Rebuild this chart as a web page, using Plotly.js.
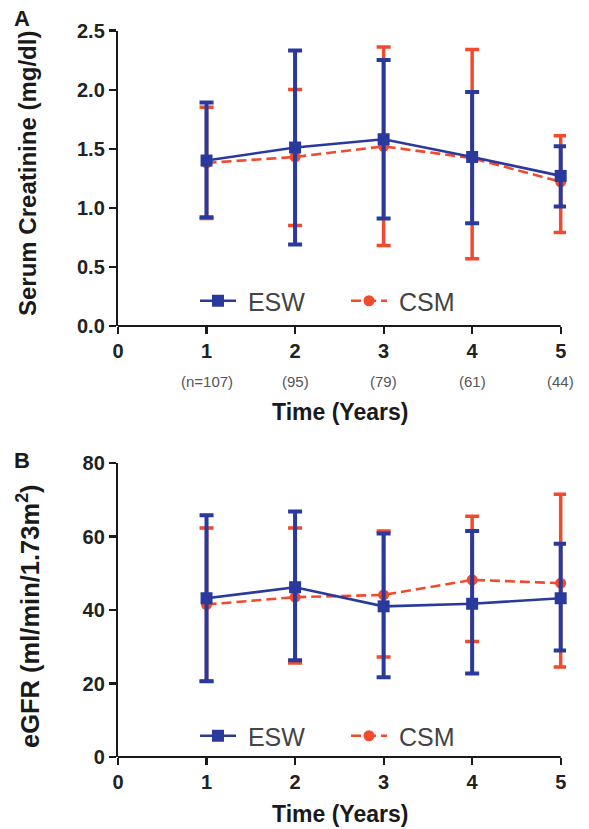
<!DOCTYPE html>
<html>
<head>
<meta charset="utf-8">
<script src="https://cdn.plot.ly/plotly-3.0.1.min.js"></script>
<style>html,body{margin:0;padding:0;background:#fff;}#chart{width:589px;height:829px;}</style>
</head>
<body>
<div id="chart"></div>
<script>
// ---- Data ----
var years = [1, 2, 3, 4, 5];
var sampleLabels = ["(n=107)", "(95)", "(79)", "(61)", "(44)"];
var groupNames = ["ESW", "CSM"];

// Panel A: Serum creatinine (mg/dl)
var crESWMean  = [1.40, 1.51, 1.58, 1.43, 1.27];
var crESWUpper = [1.89, 2.33, 2.25, 1.98, 1.52];
var crESWLower = [0.92, 0.69, 0.91, 0.87, 1.01];
var crCSMMean  = [1.38, 1.43, 1.52, 1.42, 1.22];
var crCSMUpper = [1.85, 2.00, 2.36, 2.34, 1.61];
var crCSMLower = [0.91, 0.85, 0.68, 0.57, 0.79];

// Panel B: eGFR (ml/min/1.73m2)
var gfESWMean  = [43.2, 46.2, 41.0, 41.7, 43.2];
var gfESWUpper = [65.8, 66.8, 60.8, 61.5, 58.0];
var gfESWLower = [20.6, 26.3, 21.7, 22.7, 29.0];
var gfCSMMean  = [41.5, 43.5, 44.1, 48.2, 47.3];
var gfCSMUpper = [62.3, 62.3, 61.5, 65.5, 71.5];
var gfCSMLower = [20.6, 25.6, 27.2, 31.4, 24.5];

var BLUE = '#2a3a9c';
var RED = '#f14a2c';
var AXC = '#1a1a1a';
var FONT = 'Liberation Sans, Arial, sans-serif';

function diff(a, b) { return a.map(function (v, i) { return +(v - b[i]).toFixed(4); }); }

function trace(name, mean, up, lo, color, isESW, xa, ya, leg) {
  return {
    type: 'scatter', mode: 'lines+markers', name: '\u00a0' + name,
    x: years, y: mean, xaxis: xa, yaxis: ya, legend: leg, showlegend: true,
    cliponaxis: false,
    line: {color: color, width: 2.6, dash: isESW ? 'solid' : '10px,5px'},
    marker: {color: color, size: isESW ? 12 : 11, symbol: isESW ? 'square' : 'circle'},
    error_y: {type: 'data', symmetric: false, array: diff(up, mean), arrayminus: diff(mean, lo),
      color: color, thickness: isESW ? 4 : 3.5, width: 7}
  };
}

var data = [
  trace(groupNames[1], crCSMMean, crCSMUpper, crCSMLower, RED, false, 'x', 'y', 'legend'),
  trace(groupNames[0], crESWMean, crESWUpper, crESWLower, BLUE, true, 'x', 'y', 'legend'),
  trace(groupNames[1], gfCSMMean, gfCSMUpper, gfCSMLower, RED, false, 'x2', 'y2', 'legend2'),
  trace(groupNames[0], gfESWMean, gfESWUpper, gfESWLower, BLUE, true, 'x2', 'y2', 'legend2')
];

var axisCommon = {
  showline: true, linecolor: AXC, linewidth: 2.2, ticks: 'outside', ticklen: 7,
  tickwidth: 2.2, tickcolor: AXC, showgrid: false, zeroline: false,
  tickfont: {family: FONT, size: 20, color: '#222', weight: 'bold'}, fixedrange: true
};
function ax(extra) { return Object.assign({}, axisCommon, extra); }

var H = 829;
var L = 118, R = 23;
var xMax = 5.06; // small pad so the end error bars are not clipped
function py(pix) { return 1 - pix / H; }
function px(p) { return (p - L) / (589 - L - R); }

var annotations = [
  {text: '<b>A</b>', x: px(22), y: py(19), size: 22},
  {text: '<b>B</b>', x: px(22), y: py(461), size: 22},
  {text: '<b>Serum Creatinine (mg/dl)</b>', x: px(27), y: py(174), textangle: -90, size: 24},
  {text: '<b>eGFR (ml/min/1.73m<sup>2</sup>)</b>', x: px(28), y: py(616), textangle: -90, size: 25.5},
  {text: '<b>Time (Years)</b>', x: px(339.5), y: py(412), size: 23},
  {text: '<b>Time (Years)</b>', x: px(339.5), y: py(814), size: 23}
].map(function (a) {
  return {text: a.text, xref: 'paper', yref: 'paper', x: a.x, y: a.y, textangle: a.textangle || 0,
    showarrow: false, xanchor: 'center', yanchor: 'middle',
    font: {family: FONT, size: a.size || 21, color: AXC}};
});
sampleLabels.forEach(function (t, i) {
  annotations.push({text: t, xref: 'x', yref: 'paper', x: years[i], y: py(381), showarrow: false,
    xanchor: 'center', yanchor: 'middle', font: {family: FONT, size: 15, color: '#555'}});
});

// x-axis lines end exactly at the last year (as in the original)
var lastYear = years[years.length - 1];
var shapes = [['x', 'y domain'], ['x2', 'y2 domain']].map(function (r) {
  return {type: 'line', xref: r[0], yref: r[1], x0: 0, x1: lastYear, y0: 0, y1: 0,
    line: {color: AXC, width: 2.2}, layer: 'above'};
});

var legendCommon = {
  orientation: 'h', xanchor: 'left', yanchor: 'middle', bgcolor: 'rgba(0,0,0,0)',
  font: {family: FONT, size: 25, color: '#444'}, traceorder: 'reversed',
  itemwidth: 36, entrywidth: 100, entrywidthmode: 'pixels'
};

var layout = {
  width: 589, height: 829,
  margin: {l: L, r: R, t: 0, b: 0},
  paper_bgcolor: '#fff', plot_bgcolor: '#fff',
  showlegend: true,
  xaxis: ax({domain: [0, 1], range: [0, xMax], dtick: 1, tick0: 0, anchor: 'y', showline: false}),
  yaxis: ax({domain: [py(326), py(30.5)], range: [0, 2.5], dtick: 0.5, tickformat: '.1f', anchor: 'x'}),
  xaxis2: ax({domain: [0, 1], range: [0, xMax], dtick: 1, tick0: 0, anchor: 'y2', showline: false}),
  yaxis2: ax({domain: [py(757), py(463)], range: [0, 80], dtick: 20, anchor: 'x2'}),
  legend: Object.assign({}, legendCommon, {x: px(195), y: py(301)}),
  legend2: Object.assign({}, legendCommon, {x: px(195), y: py(736)}),
  shapes: shapes,
  annotations: annotations
};

Plotly.newPlot('chart', data, layout, {staticPlot: true, displayModeBar: false});
</script>
</body>
</html>
